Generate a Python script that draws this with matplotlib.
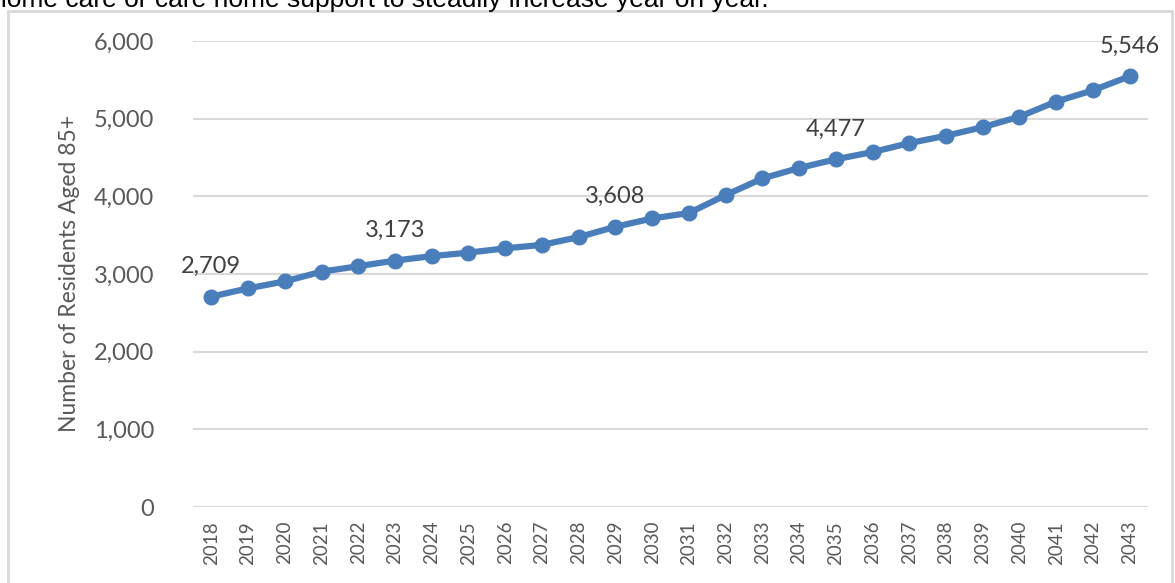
import matplotlib.pyplot as plt
from matplotlib.patches import Rectangle
from matplotlib.ticker import FuncFormatter

years = [str(y) for y in range(2018, 2044)]
residents = [2709, 2815, 2905, 3030, 3100, 3173, 3230, 3275, 3330, 3375,
             3475, 3608, 3715, 3785, 4015, 4230, 4365, 4477, 4570, 4685,
             4780, 4890, 5025, 5220, 5365, 5546]
labelled_years = ["2018", "2023", "2029", "2035", "2043"]
y_ticks = [0, 1000, 2000, 3000, 4000, 5000, 6000]

plt.rcParams["font.family"] = ["Lato", "DejaVu Sans"]

fig = plt.figure(figsize=(11.75, 5.83), dpi=100)

# caption line of the surrounding document, cut off at the top edge
fig.text(-0.007, 1 - 7 / 583, "home care or care home support to steadily increase year on year.",
         family="Liberation Sans", fontsize=19, color="black", va="baseline", ha="left")

# chart frame
fig.patches.append(Rectangle((8 / 1175, -0.05), 1164 / 1175, 1.05 - 11 / 583,
                             transform=fig.transFigure, fill=False,
                             edgecolor="#d9d9d9", linewidth=2))

ax = fig.add_axes([193 / 1175, 76 / 583, 955 / 1175, 466 / 583])
x = list(range(len(years)))
ax.plot(x, residents, color="#4a7ebb", linewidth=4.5, marker="o", markersize=10.5,
        solid_capstyle="round", zorder=3)

for i, yr in enumerate(years):
    if yr in labelled_years:
        ax.annotate(f"{residents[i]:,}", (i, residents[i]), xytext=(0, 14),
                    textcoords="offset points", ha="center", va="bottom",
                    fontsize=17, color="#404040")

ax.set_xlim(-0.5, len(years) - 0.5)
ax.set_ylim(0, 6000)
ax.set_xticks(x)
ax.set_xticklabels(years, rotation=90, fontsize=13.5, color="#595959")
ax.set_yticks(y_ticks)
ax.yaxis.set_major_formatter(FuncFormatter(lambda v, p: f"{int(v):,}"))
ax.tick_params(axis="y", labelsize=17, labelcolor="#595959", length=0, pad=28)
ax.tick_params(axis="x", length=0, pad=10)
ax.grid(axis="y", color="#d9d9d9", linewidth=1.5)
ax.set_axisbelow(True)
for s in ax.spines.values():
    s.set_visible(False)
ax.set_ylabel("Number of Residents Aged 85+", fontsize=16.5, color="#595959", labelpad=10)

fig.savefig("out.png", dpi=100)
